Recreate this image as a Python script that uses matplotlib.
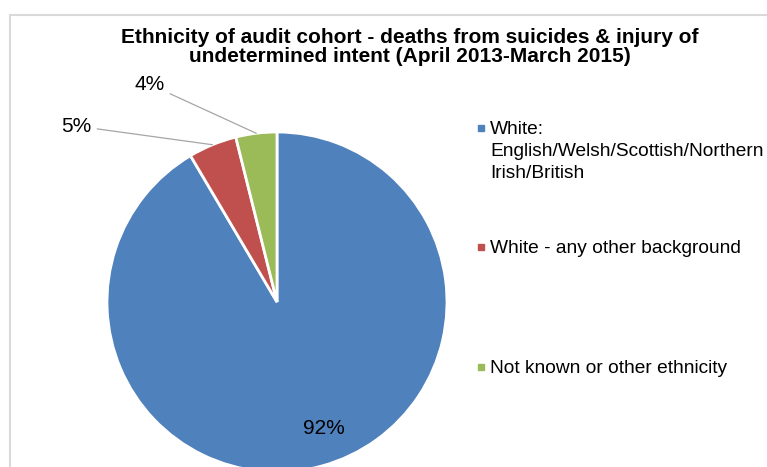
import matplotlib
matplotlib.use("Agg")
import matplotlib.pyplot as plt
from matplotlib.patches import Rectangle
import numpy as np

plt.rcParams['font.family'] = ['Liberation Sans', 'DejaVu Sans']

# __ data __
categories = ["White:\nEnglish/Welsh/Scottish/Northern\nIrish/British",
              "White - any other background",
              "Not known or other ethnicity"]
shares = [91.5, 4.6, 3.9]
pct_labels = ["92%", "5%", "4%"]
colors = ["#4f81bd", "#c0504d", "#9bbb59"]

W, H = 767, 467
fig = plt.figure(figsize=(W / 100, H / 100), dpi=100)

# __ pie axes: center (277, 302), radius 170 px __
cx, cy, r = 277, 302, 170
ax = fig.add_axes([(cx - r) / W, 1 - (cy + r) / H, 2 * r / W, 2 * r / H])
wedges, _ = ax.pie(shares, colors=colors, startangle=90, counterclock=False,
                   wedgeprops=dict(edgecolor="white", linewidth=2))
ax.set_xlim(-1, 1)
ax.set_ylim(-1, 1)
ax.set_aspect("equal")
ax.axis("off")

# __ 92% label inside the big slice __
w0 = wedges[0]
mid = np.deg2rad((w0.theta1 + w0.theta2) / 2)
ax.text(0.79 * np.cos(mid) + 0.07, 0.79 * np.sin(mid) + 0.02, pct_labels[0], ha="center", va="center",
        fontsize=15, color="black")

# __ outside labels with leader lines __
text_pos = [None, (-1.09, 1.035), (-0.66, 1.28)]
for i in (1, 2):
    w = wedges[i]
    a = np.deg2rad((w.theta1 + w.theta2) / 2)
    xy = (np.cos(a), np.sin(a))
    tx, ty = text_pos[i]
    ax.annotate(pct_labels[i], xy=xy, xytext=(tx, ty), ha="right", va="center",
                fontsize=15, color="black", annotation_clip=False,
                arrowprops=dict(arrowstyle="-", color="#a6a6a6", lw=0.9,
                                shrinkA=2, shrinkB=0))

# __ title __
fig.text(410 / W, 1 - 47 / H, "Ethnicity of audit cohort - deaths from suicides & injury of\n"
         "undetermined intent (April 2013-March 2015)", ha="center", va="center",
         fontsize=15, fontweight="bold", linespacing=1.0)

# __ legend (drawn by hand, Excel style) __
leg_y = [128, 247, 367]
for lab, col, y in zip(categories, colors, leg_y):
    fig.patches.append(Rectangle((478 / W, 1 - (y + 3) / H), 6 / W, 6 / H,
                                 transform=fig.transFigure, color=col, figure=fig))
    fig.text(490 / W, 1 - (y - 7) / H, lab, ha="left", va="top", fontsize=13.8,
             linespacing=1.38)

# __ frame __
fig.add_artist(plt.Line2D([10 / W, 10 / W], [0, 1 - 15 / H], color="#d9d9d9", lw=1.5,
                          transform=fig.transFigure))
fig.add_artist(plt.Line2D([10 / W, 1], [1 - 15 / H, 1 - 15 / H], color="#d9d9d9", lw=1.5,
                          transform=fig.transFigure))

fig.savefig("out.png", dpi=100)
